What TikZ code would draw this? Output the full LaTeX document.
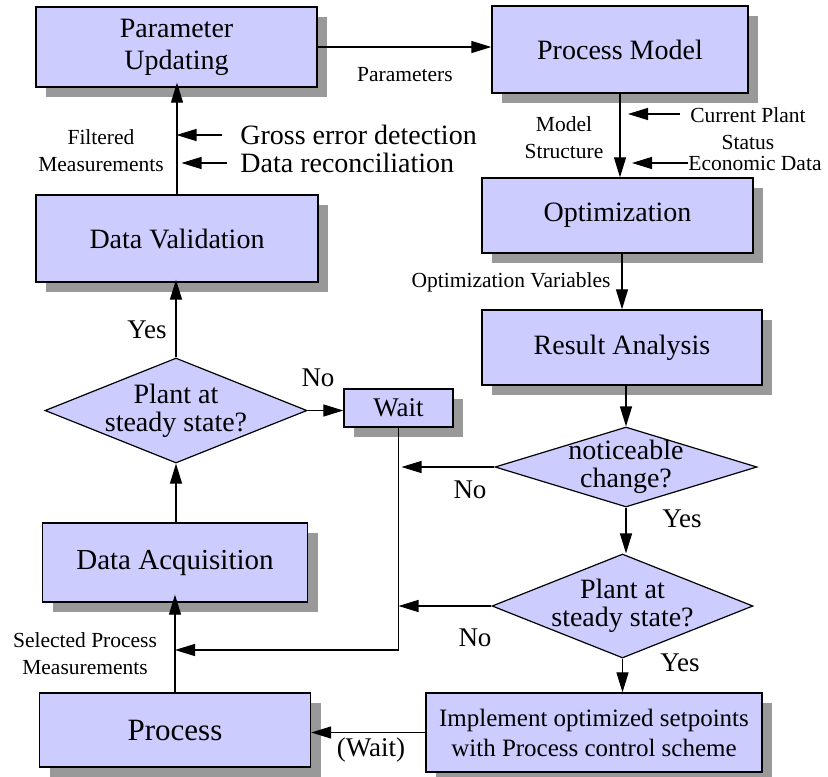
\documentclass[tikz,border=0pt]{standalone}
\usepackage{fontspec}
\setmainfont{Liberation Serif}
\usepackage{tikz}
\usetikzlibrary{arrows.meta,shapes.geometric,shadows}

\definecolor{boxblue}{HTML}{CCCCFF}
\tikzset{
  block/.style={draw, fill=boxblue, line width=1.3pt, align=center,
    drop shadow={shadow xshift=10pt, shadow yshift=-10pt, fill=black!40, opacity=1},
    font=\fontsize{28}{32}\selectfont},
  decision/.style={draw, fill=boxblue, diamond, line width=1.2pt, align=center,
    inner sep=-6pt, font=\fontsize{28}{28}\selectfont},
  tag/.style={align=center, inner sep=0pt, font=\fontsize{21.5}{27}\selectfont},
  answer/.style={inner sep=0pt, font=\fontsize{27}{30}\selectfont},
  flow/.style={-{Triangle[length=20pt,width=12pt]}, line width=1.2pt},
}

\begin{document}
\begin{tikzpicture}[thick, x=1pt, y=-1pt]
\useasboundingbox (0,0) rectangle (828,777);
%%%%% Left column %%%%%
\node[block, minimum width=281pt, minimum height=80pt] (pu) at (176.5,47) {Parameter\\Updating};
\node[block, minimum width=282pt, minimum height=87pt] (dv) at (177,238.5) {Data Validation};
\node[decision, minimum width=262pt, minimum height=105pt, aspect=2.5] (ssl) at (176,410.5) {Plant at\\steady state?};
\node[block, minimum width=109pt, minimum height=38pt, inner sep=0pt, font=\fontsize{27}{30}\selectfont] (wt) at (398.5,408) {Wait};
\node[block, minimum width=265pt, minimum height=79pt, font=\fontsize{29}{32}\selectfont] (da) at (175,562.5) {Data Acquisition};
\node[block, minimum width=271pt, minimum height=74pt, font=\fontsize{31}{34}\selectfont] (proc) at (175,730) {Process};
%%%%% Right column %%%%%
\node[block, minimum width=256pt, minimum height=87pt] (pm) at (620,49.5) {Process Model};
\node[block, minimum width=271pt, minimum height=75pt] (opt) at (617.5,215.5) {Optimization};
\node[block, minimum width=280pt, minimum height=75pt] (ra) at (622,347.5) {Result Analysis};
\node[decision, minimum width=262pt, minimum height=80pt, aspect=3.3] (chg) at (626,467) {noticeable\\change?};
\node[decision, minimum width=261pt, minimum height=104pt, aspect=2.5] (ssr) at (622.5,606) {Plant at\\steady state?};
\node[block, minimum width=336pt, minimum height=79pt, font=\fontsize{25}{30}\selectfont] (impl) at (594,732.5) {Implement optimized setpoints\\with Process control scheme};
%%%%% Main flow %%%%%
\draw[flow] (pu.east) -- (pu.east -| pm.west);
\draw[flow] (pm.south) -- (pm.south |- opt.north);
\draw[flow] (opt.south -| ra.north) -- (ra.north);
\draw[flow] (ra.south -| chg.north) -- (chg.north);
\draw[flow] (chg.south) -- (chg.south |- ssr.north);
\draw[flow] (ssr.south) -- (ssr.south |- impl.north);
\draw[flow] (impl.west) -- (impl.west -| proc.east);
\draw[flow, shorten >=-8pt] (proc.north) -- (proc.north |- da.south);
\draw[flow] (da.north -| ssl.south) -- (ssl.south);
\draw[flow, shorten >=-3pt] (ssl.north) -- (ssl.north |- dv.south);
\draw[flow, shorten >=-5pt] (dv.north) -- (dv.north |- pu.south);
\draw[flow] (ssl.east) -- (ssl.east -| wt.west);
%%%%% Wait loop %%%%%
\coordinate (back) at (wt.south |- 0,650);
\draw[line width=1.2pt] (wt.south) -- (back);
\draw[flow] (back) -- (back -| proc.north);
\draw[flow, shorten >=3pt] (chg.west) -- (chg.west -| wt.south);
\draw[flow] (ssr.west) -- (ssr.west -| wt.south);
%%%%% Side inputs %%%%%
\node[anchor=west, inner sep=0pt, font=\fontsize{28}{30}\selectfont] (gross) at (240,135) {Gross error detection};
\node[anchor=west, inner sep=0pt, font=\fontsize{28}{30}\selectfont] (recon) at (240,163) {Data reconciliation};
\draw[flow, shorten <=18pt] (gross.west) -- (gross.west -| pu.south);
\draw[flow, shorten <=13pt, shorten >=5pt] (recon.west) -- (recon.west -| pu.south);
\node[tag] (cps) at (748,128.5) {Current Plant\\Status};
\node[tag, anchor=west] (econ) at (688,163) {Economic Data};
\coordinate (cpin) at (680,114);
\draw[flow, shorten >=8pt] (cpin) -- (cpin -| pm.south);
\draw[flow, shorten >=12pt] (econ.west) -- (econ.west -| pm.south);
%%%%% Labels %%%%%
\node[tag] (parlbl) at (405,75) {Parameters};
\node[tag] (filt) at (101,151) {Filtered\\Measurements};
\node[tag] (mstr) at (564,138) {Model\\Structure};
\node[tag] (optvar) at (511,282) {Optimization Variables};
\node[tag] (selmeas) at (85,654) {Selected Process\\Measurements};
\node[answer] (yesl) at (147,330) {Yes};
\node[answer] (nol) at (318,378) {No};
\node[answer] (nochg) at (470,490) {No};
\node[answer] (yeschg) at (682,519) {Yes};
\node[answer] (nossr) at (475,638) {No};
\node[answer] (yesssr) at (680,663) {Yes};
\node[answer] (waitlbl) at (371,750) {(Wait)};
\end{tikzpicture}
\end{document}
